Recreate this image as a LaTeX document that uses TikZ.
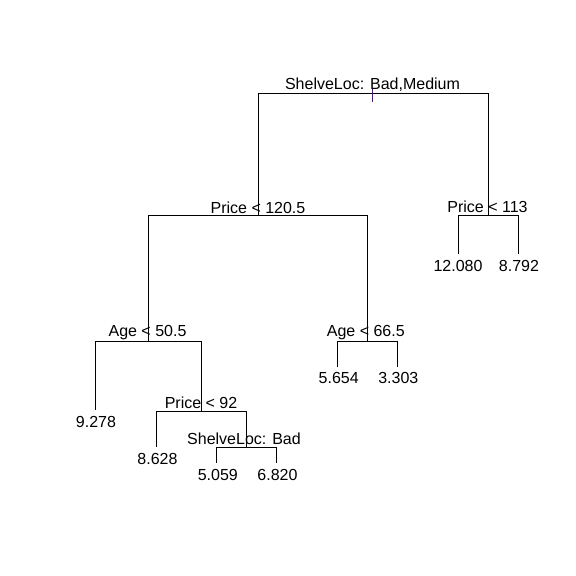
\documentclass[tikz,border=0pt]{standalone}
\usepackage{fontspec}
\setmainfont{Liberation Sans}
\definecolor{tickcol}{RGB}{70,30,120}
\begin{document}
\begin{tikzpicture}[x=1pt,y=-1pt,line width=0.9pt,
  split/.style={anchor=base,inner sep=0pt,font=\fontsize{16}{19}\selectfont},
  leaf/.style={anchor=base,inner sep=0pt,font=\fontsize{16}{19}\selectfont},
  tick/.style={draw=tickcol}]
\useasboundingbox (0,0) rectangle (576,576);
% split points
\coordinate (1) at (372.3,93.3);
\coordinate (2) at (258.3,215.8);
\coordinate (3) at (488.5,215.8);
\coordinate (4) at (148.3,341.5);
\coordinate (5) at (367.5,341.5);
\coordinate (9) at (201.5,411.7);
\coordinate (19) at (246,447.7);
% leaves
\coordinate (6) at (458.3,254);
\coordinate (7) at (518.3,254);
\coordinate (8) at (95.7,410);
\coordinate (10) at (337,366.7);
\coordinate (11) at (397.3,366.7);
\coordinate (18) at (156,446.7);
\coordinate (38) at (216.7,463.3);
\coordinate (39) at (276,463.3);
\draw (1) -| (2);
\draw (1) -| (3);
\draw (2) -| (4);
\draw (2) -| (5);
\draw (3) -| (6);
\draw (3) -| (7);
\draw (4) -| (8);
\draw (4) -| (9);
\draw (5) -| (10);
\draw (5) -| (11);
\draw (9) -| (18);
\draw (9) -| (19);
\draw (19) -| (38);
\draw (19) -| (39);
\draw[tick] ([yshift=5pt]1) -- ([yshift=-8.3pt]1);
\node[split] (s1) at (372.5,89) {ShelveLoc: Bad,Medium};
\node[split] (s2) at (258,213) {Price < 120.5};
\node[split] (s3) at (487.5,212.7) {Price < 113};
\node[split] (s4) at (147.5,336.7) {Age < 50.5};
\node[split] (s5) at (365.8,336.7) {Age < 66.5};
\node[split] (s9) at (201,408) {Price < 92};
\node[split] (s19) at (244,444.3) {ShelveLoc: Bad};
\node[leaf] (t6) at (458,271.7) {12.080};
\node[leaf] (t7) at (519,271.7) {8.792};
\node[leaf] (t8) at (96,427.7) {9.278};
\node[leaf] (t10) at (338.7,383.3) {5.654};
\node[leaf] (t11) at (398.3,383.3) {3.303};
\node[leaf] (t18) at (157.5,464) {8.628};
\node[leaf] (t38) at (217.8,480) {5.059};
\node[leaf] (t39) at (277.5,480) {6.820};
\end{tikzpicture}
\end{document}
